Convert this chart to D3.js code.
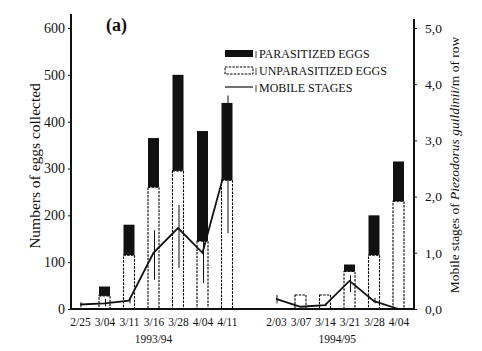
<!DOCTYPE html>
<html>
<head>
<meta charset="utf-8">
<script src="https://cdn.jsdelivr.net/npm/d3@7"></script>
<style>
  body { margin: 0; background: #fff; }
  svg { display: block; font-family: "Liberation Serif", "DejaVu Serif", serif; }
</style>
</head>
<body>
<svg id="chart" width="482" height="351"></svg>
<script>
// 1993/94 season
const datesA = ["2/25", "3/04", "3/11", "3/16", "3/28", "4/04", "4/11"];
const unparA = [0, 28, 115, 260, 295, 145, 275];
const parA = [0, 20, 65, 105, 205, 235, 165];
const mobileA = [0.08, 0.1, 0.15, 1.0, 1.44, 1.0, 2.6];
const mobileLowA = [0.03, 0.05, 0.1, 0.52, 0.73, 0.46, 1.35];
const mobileHighA = [0.12, 0.18, 0.2, 1.4, 1.85, 1.23, 3.8];

// 1994/95 season
const datesB = ["2/03", "3/07", "3/14", "3/21", "3/28", "4/04"];
const unparB = [0, 30, 30, 80, 115, 230];
const parB = [0, 0, 0, 15, 85, 85];
const mobileB = [0.18, 0.04, 0.07, 0.5, 0.14, 0.0];
const mobileLowB = [0.1, 0.04, 0.05, 0.3, 0.1, 0];
const mobileHighB = [0.25, 0.04, 0.1, 0.6, 0.2, 0];

const seasons = ["1993/94", "1994/95"];
const leftTicks = [0, 100, 200, 300, 400, 500, 600];
const rightTicks = [0, 1, 2, 3, 4, 5];
const legendLabels = ["PARASITIZED EGGS", "UNPARASITIZED EGGS", "MOBILE STAGES"];

const svg = d3.select("#chart");

const keysA = datesA.map((d) => "A " + d);
const keysB = datesB.map((d) => "B " + d);

const x = d3
  .scalePoint()
  .domain([...keysA, "gap", ...keysB])
  .range([80, 398.5]);

const yL = d3.scaleLinear().domain([0, 600]).range([309, 28]);
const yR = d3.scaleLinear().domain([0, 5]).range([309, 28]);

const axL = 71,
  axR = 414,
  barW = 11;

function rows(keys, unpar, par, mob, lo, hi) {
  return keys.map((k, i) => ({
    key: k,
    unpar: unpar[i],
    par: par[i],
    mob: mob[i],
    lo: lo[i],
    hi: hi[i],
  }));
}

const groups = [
  rows(keysA, unparA, parA, mobileA, mobileLowA, mobileHighA),
  rows(keysB, unparB, parB, mobileB, mobileLowB, mobileHighB),
];

// bars
groups.forEach((g) => {
  g.forEach((d) => {
    if (d.unpar > 0) {
      svg
        .append("rect")
        .attr("x", x(d.key) - barW / 2)
        .attr("y", yL(d.unpar))
        .attr("width", barW)
        .attr("height", yL(0) - yL(d.unpar))
        .attr("fill", "#fff")
        .attr("stroke", "#000")
        .attr("stroke-width", 1.1)
        .attr("stroke-dasharray", "2.5,1.2");
    }
    if (d.par > 0) {
      svg
        .append("rect")
        .attr("x", x(d.key) - barW / 2)
        .attr("y", yL(d.unpar + d.par))
        .attr("width", barW)
        .attr("height", yL(d.unpar) - yL(d.unpar + d.par))
        .attr("fill", "#111");
    }
  });
});

// error bars of mobile stages
groups.forEach((g) => {
  g.forEach((d) => {
    if (d.hi - d.lo <= 0) return;
    svg
      .append("line")
      .attr("x1", x(d.key) + 1)
      .attr("x2", x(d.key) + 1)
      .attr("y1", yR(d.hi))
      .attr("y2", yR(d.lo))
      .attr("stroke", "#111")
      .attr("stroke-width", 1);
  });
});

// mobile stages line
const line = d3
  .line()
  .x((d) => x(d.key))
  .y((d) => yR(d.mob));

groups.forEach((g) => {
  svg
    .append("path")
    .datum(g)
    .attr("fill", "none")
    .attr("stroke", "#111")
    .attr("stroke-width", 1.8)
    .attr("d", line);
});

// axes
svg
  .append("line")
  .attr("x1", axL)
  .attr("x2", axR)
  .attr("y1", yL(0))
  .attr("y2", yL(0))
  .attr("stroke", "#111")
  .attr("stroke-width", 2);

svg
  .append("line")
  .attr("x1", axL)
  .attr("x2", axL)
  .attr("y1", 14)
  .attr("y2", yL(0) + 1)
  .attr("stroke", "#111")
  .attr("stroke-width", 2);

svg
  .append("line")
  .attr("x1", axR)
  .attr("x2", axR)
  .attr("y1", 19)
  .attr("y2", yL(0) + 1)
  .attr("stroke", "#111")
  .attr("stroke-width", 2);

const gL = svg
  .append("g")
  .attr("transform", `translate(${axL},0)`)
  .call(d3.axisLeft(yL).tickValues(leftTicks).tickSize(3).tickPadding(3));

const gR = svg
  .append("g")
  .attr("transform", `translate(${axR},0)`)
  .call(
    d3
      .axisRight(yR)
      .tickValues(rightTicks)
      .tickSize(3)
      .tickPadding(8)
      .tickFormat((d) => d3.format(".1f")(d).replace(".", ","))
  );

const gB = svg
  .append("g")
  .attr("transform", `translate(0,${yL(0)})`)
  .call(
    d3
      .axisBottom(x)
      .tickValues([...keysA, ...keysB])
      .tickSize(0)
      .tickPadding(9)
      .tickFormat((k) => k.slice(2))
  );

[gL, gR, gB].forEach((g) => {
  g.select(".domain").remove();
  g.selectAll("text")
    .attr("fill", "#111")
    .style("font-family", '"Liberation Serif", serif');
});
gL.selectAll("text").style("font-size", "14px");
gR.selectAll("text").style("font-size", "13.5px");
gB.selectAll("text").style("font-size", "11.5px");
gL.selectAll("line").attr("stroke", "#111");
gR.selectAll("line").attr("stroke", "#111");

// season labels
[keysA, keysB].forEach((keys, i) => {
  svg
    .append("text")
    .attr("x", (x(keys[0]) + x(keys[keys.length - 1])) / 2)
    .attr("y", 343)
    .attr("text-anchor", "middle")
    .attr("font-size", "11.5px")
    .attr("fill", "#111")
    .text(seasons[i]);
});

// axis titles
svg
  .append("text")
  .attr("transform", "translate(40,166) rotate(-90)")
  .attr("text-anchor", "middle")
  .attr("font-size", "15.5px")
  .attr("fill", "#111")
  .text("Numbers of eggs collected");

const rt = svg
  .append("text")
  .attr("transform", "translate(459,165) rotate(-90)")
  .attr("text-anchor", "middle")
  .attr("font-size", "13.5px")
  .attr("fill", "#111");
rt.append("tspan").text("Mobile stages of ");
rt.append("tspan").attr("font-style", "italic").text("Piezodorus guildinii");
rt.append("tspan").text("/m of row");

svg
  .append("text")
  .attr("x", 106)
  .attr("y", 31)
  .attr("font-size", "18px")
  .attr("font-weight", "bold")
  .attr("fill", "#111")
  .text("(a)");

// legend
const legend = svg.append("g").attr("transform", "translate(225,50)");
legendLabels.forEach((t, i) => {
  const row = legend.append("g").attr("transform", `translate(0,${i * 17})`);
  if (i === 0) {
    row.append("rect").attr("width", 28).attr("height", 7).attr("fill", "#111");
  } else if (i === 1) {
    row
      .append("rect")
      .attr("width", 28)
      .attr("height", 7)
      .attr("fill", "#fff")
      .attr("stroke", "#000")
      .attr("stroke-dasharray", "2.5,1.2");
  } else {
    row
      .append("line")
      .attr("x1", 0)
      .attr("x2", 28)
      .attr("y1", 3)
      .attr("y2", 3)
      .attr("stroke", "#111")
      .attr("stroke-width", 1.2);
  }
  row
    .append("line")
    .attr("x1", 31)
    .attr("x2", 31)
    .attr("y1", 1)
    .attr("y2", 8)
    .attr("stroke", "#111")
    .attr("stroke-width", 0.8);
  row
    .append("text")
    .attr("x", 34)
    .attr("y", 8)
    .attr("font-size", "12px")
    .attr("fill", "#111")
    .text(t);
});
</script>
</body>
</html>
